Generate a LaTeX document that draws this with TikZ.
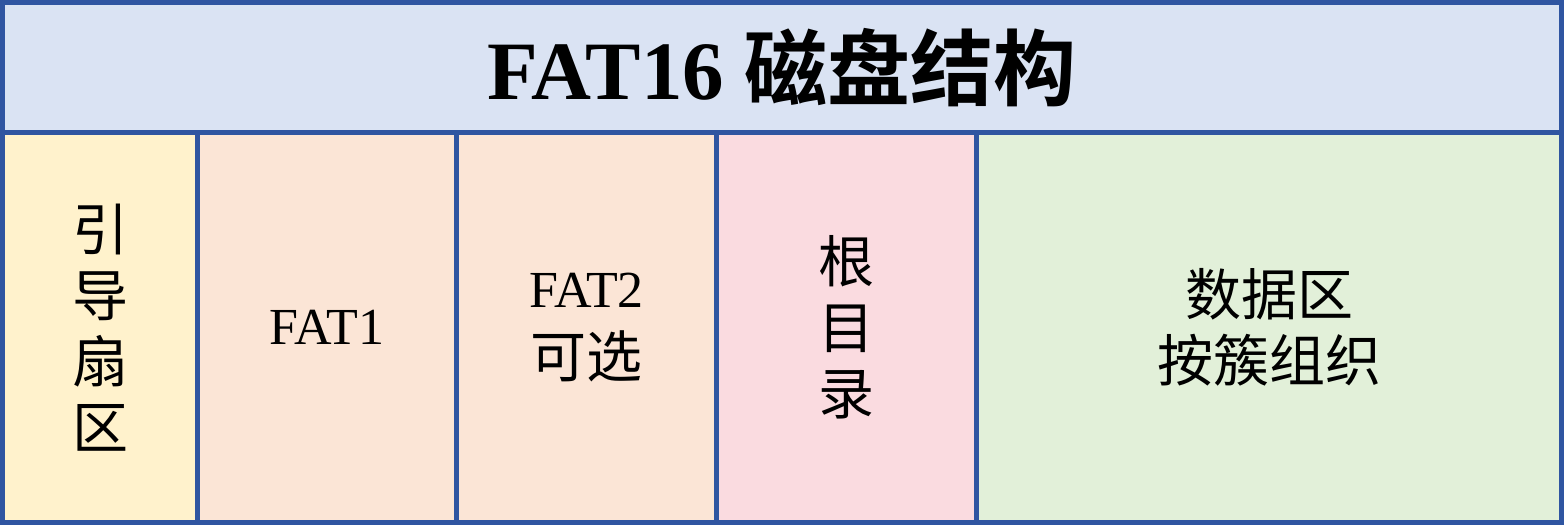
\documentclass[tikz,border=0pt]{standalone}
\usepackage{fontspec}
\setmainfont{Liberation Serif}
\newfontfamily\cjk[BoldFont={Noto Sans CJK SC Bold}]{Noto Sans CJK SC}
\definecolor{frame}{RGB}{47,85,161}
\definecolor{head}{RGB}{218,227,243}
\definecolor{bootc}{RGB}{255,242,204}
\definecolor{fatc}{RGB}{251,229,214}
\definecolor{rootc}{RGB}{250,219,224}
\definecolor{datac}{RGB}{226,240,217}
\usetikzlibrary{positioning}
\newcommand{\lat}[1]{{\rmfamily\fontsize{52}{66}\selectfont #1}}

\begin{document}
\begin{tikzpicture}[x=1pt,y=1pt,
    box/.style={draw=frame,line width=5pt,outer sep=0pt,inner sep=0pt,align=center},
    cell/.style={box,minimum height=389.5pt,font=\cjk\fontsize{56}{66}\selectfont}]
        \useasboundingbox (0,0) rectangle (1564,-525);
        % header
        \node[box,fill=head,minimum width=1559pt,minimum height=130pt,
              font=\bfseries\fontsize{83}{100}\selectfont] (title) at (782,-67.5) {FAT16 {\cjk 磁盘结构}};
        % regions of the disk
        \node[cell,fill=bootc,minimum width=195pt,anchor=north west] (boot) at (title.south west) {引\\导\\扇\\区};
        \node[cell,fill=fatc,minimum width=259pt,right=0pt of boot] (fat1) {\lat{FAT1}};
        \node[cell,fill=fatc,minimum width=260pt,right=0pt of fat1] (fat2) {\lat{FAT2}\\[4pt]可选};
        \node[cell,fill=rootc,minimum width=260pt,right=0pt of fat2] (rootdir) {根\\目\\录};
        \node[cell,fill=datac,minimum width=585pt,right=0pt of rootdir] (data) {数据区\\按簇组织};
    \end{tikzpicture}
\end{document}
